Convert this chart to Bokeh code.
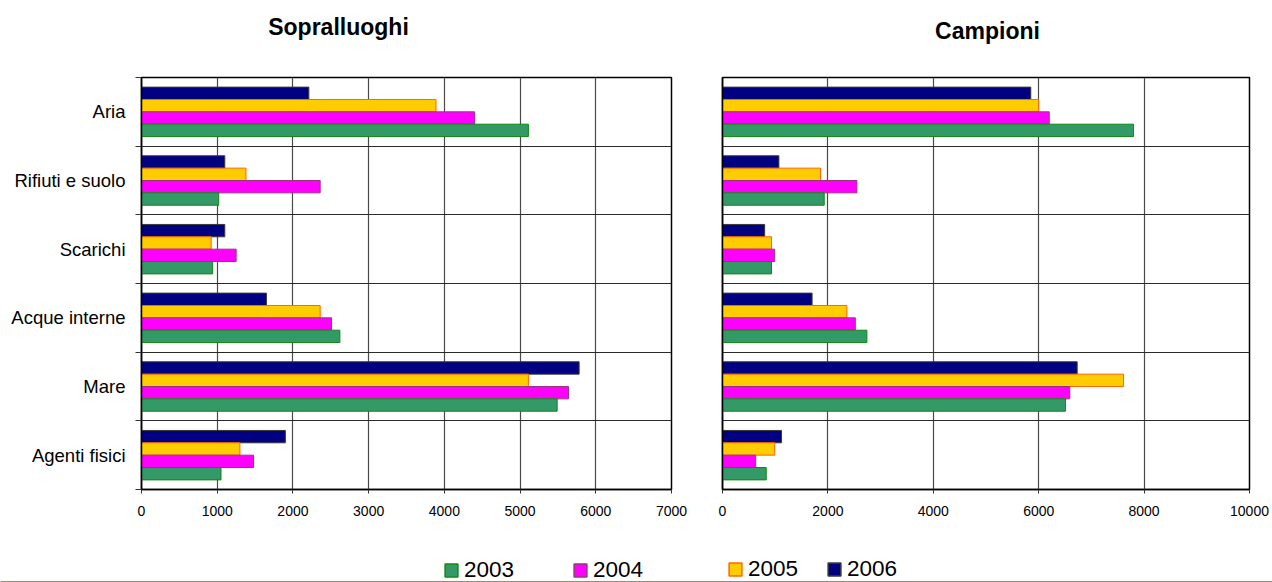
from bokeh.plotting import figure
from bokeh.models import (Range1d, FixedTicker, Legend, LegendItem, ColumnDataSource, Label)
from bokeh.layouts import column, row
from bokeh.transform import dodge
from bokeh.embed import file_html
from bokeh.resources import INLINE

# ---------------- data ----------------
categories = ["Aria", "Rifiuti e suolo", "Scarichi", "Acque interne", "Mare", "Agenti fisici"]
years = ["2003", "2004", "2005", "2006"]
titles = ["Sopralluoghi", "Campioni"]

sopralluoghi_2003 = [5110, 1020, 940, 2620, 5490, 1050]
sopralluoghi_2004 = [4400, 2360, 1250, 2510, 5640, 1480]
sopralluoghi_2005 = [3890, 1380, 920, 2360, 5110, 1300]
sopralluoghi_2006 = [2210, 1100, 1100, 1650, 5780, 1900]

campioni_2003 = [7800, 1930, 930, 2740, 6510, 830]
campioni_2004 = [6200, 2550, 990, 2520, 6590, 630]
campioni_2005 = [6000, 1860, 930, 2360, 7610, 990]
campioni_2006 = [5850, 1070, 800, 1700, 6730, 1120]

left_ticks = [0, 1000, 2000, 3000, 4000, 5000, 6000, 7000]
right_ticks = [0, 2000, 4000, 6000, 8000, 10000]

# ---------------- styles ----------------
FILL = {"2003": "#339966", "2004": "#FF00FF", "2005": "#FFCC00", "2006": "#000080"}
LINE = {"2003": "#118811", "2004": "#993380", "2005": "#FF6600", "2006": "#3A3A3A"}
OFFSET = {"2006": 0.27, "2005": 0.09, "2004": -0.09, "2003": -0.27}
BAR_H = 0.18
FONT = "Liberation Sans"

n = len(categories)
pos = [n - i - 0.5 for i in range(n)]


def strip(height):
    s = figure(width=1272, height=height, x_range=Range1d(0, 1), y_range=Range1d(0, 1),
               output_backend="svg", toolbar_location=None,
               x_axis_location=None, y_axis_location=None,
               min_border=0, min_border_left=0, min_border_right=0,
               min_border_top=0, min_border_bottom=0)
    s.grid.visible = False
    s.outline_line_color = None
    s.background_fill_color = "white"
    s.border_fill_color = "white"
    return s


# ---------------- title strip ----------------
TOP_H = 60
p0 = strip(TOP_H)
for t, tx, ty in zip(titles, [338, 987], [34, 30]):
    p0.add_layout(Label(text=t, x=tx, y=ty, x_units="screen", y_units="screen",
                        text_align="center", text_baseline="alphabetic",
                        text_font=FONT, text_font_size="23px", text_font_style="bold",
                        text_color="black"))


def make_source(v03, v04, v05, v06):
    return ColumnDataSource(dict(pos=pos, cat=categories,
                                 **{"2003": v03, "2004": v04, "2005": v05, "2006": v06}))


def build(vals, xmax, ticks, width, height, mb_left, mb_right, mb_top, mb_bottom, show_labels):
    src = make_source(*vals)
    p = figure(width=width, height=height,
               x_range=Range1d(0, xmax), y_range=Range1d(0, n),
               output_backend="svg", toolbar_location=None,
               min_border_left=mb_left, min_border_right=mb_right,
               min_border_top=mb_top, min_border_bottom=mb_bottom)
    for y in ["2006", "2005", "2004", "2003"]:
        p.hbar(y=dodge("pos", OFFSET[y], range=p.y_range), left=0, right=y, height=BAR_H,
               source=src, fill_color=FILL[y], line_color=LINE[y], line_width=1)

    # x axis
    xa = p.xaxis[0]
    xa.ticker = FixedTicker(ticks=ticks)
    xa.axis_line_color = "black"
    xa.axis_line_width = 1.5
    xa.major_tick_line_color = "#333333"
    xa.major_tick_out = 4
    xa.major_tick_in = 0
    xa.minor_tick_line_color = None
    xa.major_label_text_font = FONT
    xa.major_label_text_font_size = "14px"
    xa.major_label_text_color = "black"
    xa.major_label_standoff = 12

    # y axis
    ya = p.yaxis[0]
    ya.axis_line_color = "black"
    ya.axis_line_width = 1.5
    if show_labels:
        ya.ticker = FixedTicker(ticks=pos, minor_ticks=list(range(n + 1)))
        ya.major_label_overrides = {pv: c for pv, c in zip(pos, categories)}
        ya.major_tick_line_color = None
        ya.major_tick_out = 0
        ya.major_tick_in = 0
        ya.minor_tick_line_color = "#333333"
        ya.minor_tick_out = 6
        ya.minor_tick_in = 0
        ya.major_label_text_font = FONT
        ya.major_label_text_font_size = "18.5px"
        ya.major_label_text_color = "black"
        ya.major_label_standoff = 10
    else:
        ya.ticker = FixedTicker(ticks=[])
        ya.major_label_text_font_size = "0px"

    p.xgrid.ticker = FixedTicker(ticks=ticks)
    p.xgrid.grid_line_color = "#4a4a4a"
    p.xgrid.grid_line_width = 1.2
    p.ygrid.ticker = FixedTicker(ticks=list(range(1, n)))
    p.ygrid.grid_line_color = "#2a2a2a"
    p.ygrid.grid_line_width = 1.2
    p.outline_line_color = "black"
    p.outline_line_width = 1.5
    p.background_fill_color = "white"
    p.border_fill_color = "white"
    return p


p1 = build((sopralluoghi_2003, sopralluoghi_2004, sopralluoghi_2005, sopralluoghi_2006),
           7000, left_ticks, 697, 530 - TOP_H, 141, 26, 77 - TOP_H, 41, True)
p2 = build((campioni_2003, campioni_2004, campioni_2005, campioni_2006),
           10000, right_ticks, 575, 530 - TOP_H, 25, 23, 77 - TOP_H, 37, False)

# ---------------- legend strip ----------------
p3 = strip(52)
rend = {}
for y in years:
    # legend swatches only: the single bar lies outside the visible range
    rend[y] = p3.hbar(y=[-10], left=[0], right=[1], height=0.1, fill_color=FILL[y],
                      line_color=LINE[y], line_width=1.5)


def legend(items, loc, spacing):
    return Legend(items=[LegendItem(label=y, renderers=[rend[y]]) for y in items],
                  location=loc, orientation="horizontal", spacing=spacing,
                  padding=0, margin=0, glyph_width=16, glyph_height=16,
                  label_standoff=5, label_text_font=FONT, label_text_font_size="22.5px",
                  label_text_color="black", border_line_color=None,
                  background_fill_alpha=0)


p3.add_layout(legend(["2003", "2004"], (443, -1), 58), "center")
p3.add_layout(legend(["2005", "2006"], (727, 0), 28), "center")

layout = column(p0, row(p1, p2, spacing=0), p3, spacing=0)
open("out.html", "w").write(file_html(layout, INLINE))
